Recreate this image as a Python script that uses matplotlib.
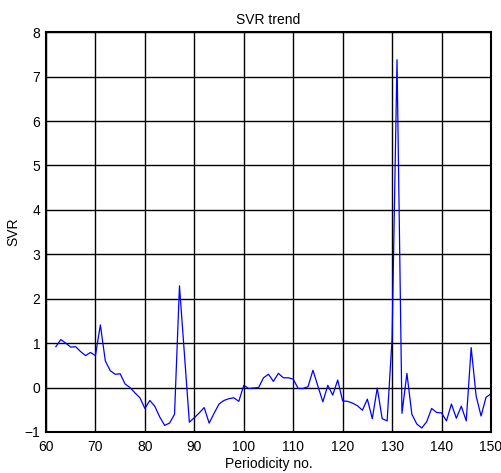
import numpy as np
import matplotlib
matplotlib.use("Agg")
import matplotlib.pyplot as plt

plt.rcParams['font.family'] = ['Liberation Sans', 'DejaVu Sans']

# periodicity numbers and SVR values
period = np.arange(62, 151)
svr = [0.92, 1.08, 1.0, 0.91, 0.92, 0.81, 0.72, 0.79, 0.72,   # 62-70
       1.41, 0.6, 0.38, 0.3, 0.31, 0.08, 0.0, -0.12, -0.23, -0.47,  # 71-80
       -0.29, -0.42, -0.66, -0.85, -0.8, -0.6, 2.29, 0.75, -0.78, -0.68,  # 81-90
       -0.57, -0.45, -0.8, -0.58, -0.37, -0.29, -0.25, -0.23, -0.31, 0.05,  # 91-100
       -0.02, -0.01, 0.0, 0.22, 0.3, 0.14, 0.32, 0.22, 0.22, 0.19,  # 101-110
       -0.02, -0.02, 0.02, 0.39, 0.03, -0.32, 0.05, -0.17, 0.17, -0.3,  # 111-120
       -0.31, -0.35, -0.41, -0.51, -0.26, -0.7, -0.01, -0.7, -0.75, 1.1,  # 121-130
       7.38, -0.58, 0.32, -0.6, -0.82, -0.91, -0.77, -0.47, -0.56, -0.57,  # 131-140
       -0.75, -0.37, -0.69, -0.42, -0.75, 0.9, -0.19, -0.64, -0.22, -0.14]  # 141-150

xticks = np.arange(60, 151, 10)
yticks = np.arange(-1, 9, 1)

fig = plt.figure(figsize=(5.02, 4.73), dpi=100)
ax = fig.add_axes([0.0916, 0.0867, 0.8864, 0.8453])

ax.plot(period, svr, color='#0000ff', linewidth=0.9)

ax.set_xlim(60, 150)
ax.set_ylim(-1, 8)
ax.set_xticks(xticks)
ax.set_yticks(yticks)
ax.grid(True, color='black', linestyle='-', linewidth=1.0)
ax.set_axisbelow(True)
for s in ax.spines.values():
    s.set_linewidth(1.5)
ax.tick_params(direction='in', length=0, labelsize=10, pad=4)
ax.tick_params(axis='x', pad=6)

ax.set_title('SVR trend', fontsize=10, pad=6)
ax.set_xlabel('Periodicity no.', fontsize=10, labelpad=2)
ax.set_ylabel('SVR', fontsize=10, labelpad=3)

fig.savefig('out.png', dpi=100)
